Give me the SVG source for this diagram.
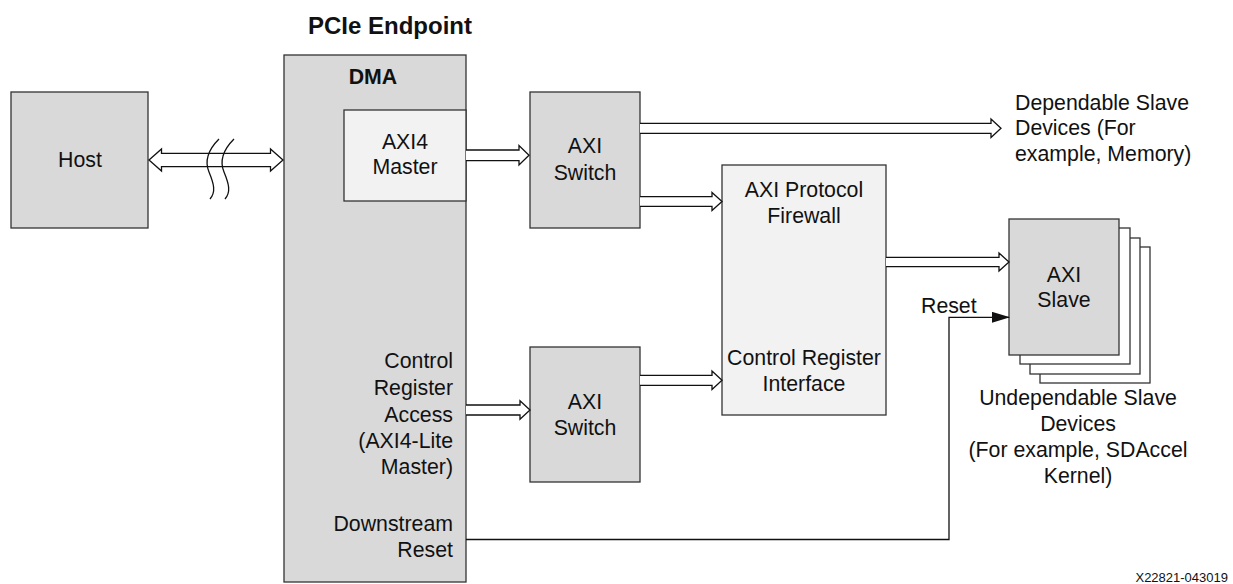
<svg xmlns="http://www.w3.org/2000/svg" width="1233" height="584" viewBox="0 0 1233 584">
<style>
.box{stroke:#333;stroke-width:1.3}
.dark{fill:#d9d9d9}
.light{fill:#f2f2f2}
.white{fill:#fff}
.t{font-family:"Liberation Sans",Arial,sans-serif;font-size:21.3px;fill:#111}
.b{font-weight:bold}
.c{text-anchor:middle}
.r{text-anchor:end}
.arr{fill:#fff;stroke:#111;stroke-width:1.3}
.ln{fill:none;stroke:#111;stroke-width:1.3}
</style>
<defs>
<marker id="tri" markerWidth="18" markerHeight="12" refX="17" refY="5.5" orient="auto" markerUnits="userSpaceOnUse">
<path d="M0,0 L18,5.5 L0,11 Z" fill="#111"/>
</marker>
</defs>
<rect width="1233" height="584" fill="#fff"/>
<text class="t b c" x="390" y="34" style="font-size:24px">PCIe Endpoint</text>
<g id="host">
<rect class="box dark" x="11" y="92" width="137" height="136"/>
<text class="t c" x="80" y="167">Host</text>
</g>
<g id="dma">
<rect class="box dark" x="284" y="55" width="182" height="527"/>
<text class="t b c" x="373" y="84">DMA</text>
<text class="t r" x="453" y="368">Control</text>
<text class="t r" x="453" y="395">Register</text>
<text class="t r" x="453" y="421.5">Access</text>
<text class="t r" x="453" y="448">(AXI4-Lite</text>
<text class="t r" x="453" y="474">Master)</text>
<text class="t r" x="453" y="531">Downstream</text>
<text class="t r" x="453" y="557">Reset</text>
</g>
<g id="axi4master">
<rect class="box light" x="344" y="110" width="122" height="91"/>
<text class="t c" x="405" y="149">AXI4</text>
<text class="t c" x="405" y="174">Master</text>
</g>
<g id="switch1">
<rect class="box dark" x="530" y="92" width="110" height="136"/>
<text class="t c" x="585" y="153">AXI</text>
<text class="t c" x="585" y="180">Switch</text>
</g>
<g id="switch2">
<rect class="box dark" x="530" y="347" width="110" height="135"/>
<text class="t c" x="585" y="409">AXI</text>
<text class="t c" x="585" y="435">Switch</text>
</g>
<g id="firewall">
<rect class="box light" x="722" y="165" width="164" height="250"/>
<text class="t c" x="804" y="197">AXI Protocol</text>
<text class="t c" x="804" y="223">Firewall</text>
<text class="t c" x="804" y="365">Control Register</text>
<text class="t c" x="804" y="391">Interface</text>
</g>
<g id="slaves">
<rect class="box white" x="1040" y="247" width="110" height="136"/>
<rect class="box white" x="1030" y="238" width="110" height="136"/>
<rect class="box white" x="1020" y="228" width="110" height="136"/>
<rect class="box dark" x="1009" y="219" width="110" height="136"/>
<text class="t c" x="1064" y="282">AXI</text>
<text class="t c" x="1064" y="307">Slave</text>
</g>
<g id="labels">
<text class="t" x="1015" y="110">Dependable Slave</text>
<text class="t" x="1015" y="135">Devices (For</text>
<text class="t" x="1015" y="161">example, Memory)</text>
<text class="t c" x="1078" y="405">Undependable Slave</text>
<text class="t c" x="1078" y="431">Devices</text>
<text class="t c" x="1078" y="457">(For example, SDAccel</text>
<text class="t c" x="1078" y="483">Kernel)</text>
<text class="t" x="921" y="313">Reset</text>
<text class="t r" x="1228" y="582" style="font-size:13px">X22821-043019</text>
</g>
<g id="connectors">
<path class="arr" d="M149,160 L161.5,149 V153.3 H270.5 V149 L283,160 L270.5,171 V166.7 H161.5 V171 Z"/>
<path class="ln" d="M219,139 C210,148 204,160 209,172 C214,184 216,192 210,199"/>
<path class="ln" d="M234,139 C225,148 219,160 224,172 C229,184 231,192 225,199"/>
<path class="arr" d="M466,150 H519 V145.5 L529,155.3 L519,165 V160.7 H466"/>
<path class="arr" d="M640,123.3 H991 V119 L1001,128.3 L991,137.6 V133.3 H640"/>
<path class="arr" d="M640,196.7 H712 V192.4 L722,201.5 L712,210.6 V206.3 H640"/>
<path class="arr" d="M886,257.3 H999 V253 L1009,262 L999,271 V266.7 H886"/>
<path class="arr" d="M466,405 H520 V400.7 L530,410 L520,419.3 V415 H466"/>
<path class="arr" d="M640,375.3 H712 V371 L722,380.3 L712,389.6 V385.3 H640"/>
<path class="ln" d="M466,539.5 H949 V317.3 H1009" marker-end="url(#tri)"/>
</g>
</svg>
